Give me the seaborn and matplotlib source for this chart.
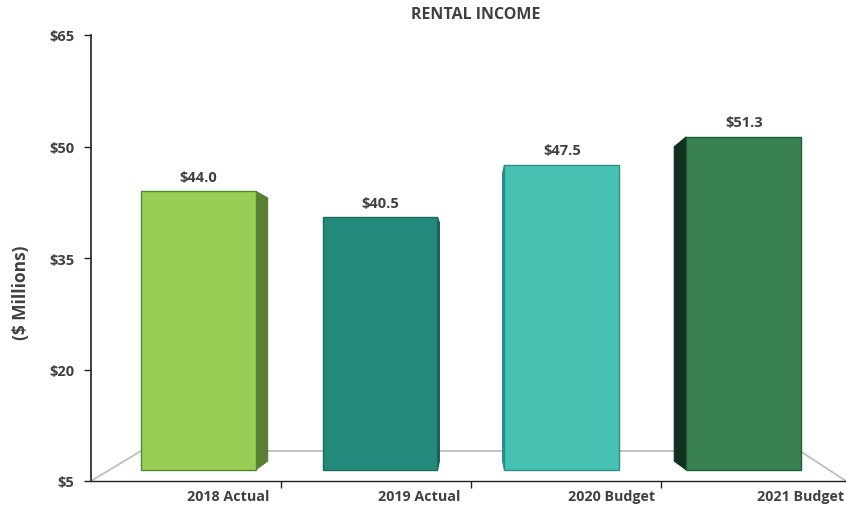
import matplotlib
matplotlib.use("Agg")
import matplotlib.pyplot as plt
import seaborn as sns
from matplotlib.patches import Polygon

# Data
categories = ["2018 Actual", "2019 Actual", "2020 Budget", "2021 Budget"]
values = [44.0, 40.5, 47.5, 51.3]
value_labels = ["$44.0", "$40.5", "$47.5", "$51.3"]
yticks = [5, 20, 35, 50, 65]
ytick_labels = ["$5", "$20", "$35", "$50", "$65"]

# Styling
front_colors = ["#9acd55", "#23897a", "#48c3b3", "#3a8152"]
edge_colors = ["#4f8a35", "#1b6b5a", "#2a8f80", "#1f5f37"]
side_colors = ["#5b7f32", "#17594d", "#2a8f80", "#132f1f"]
text_color = "#404040"
floor_color = "#bfbfbf"

sns.set_style("white")
plt.rcParams["font.family"] = ["Open Sans", "DejaVu Sans"]

fig = plt.figure(figsize=(8.46, 5.10), dpi=100)
ax = fig.add_axes([91 / 846, 1 - 482 / 510, 1 - 91 / 846, (482 - 36) / 510])

sns.barplot(x=categories, y=values, hue=categories, palette=front_colors,
            legend=False, width=0.632, saturation=1, ax=ax)

ax.set_xlim(-0.589, 3.562)
ax.set_ylim(5, 65)

# 3D-ish look: floor, bars lifted off the axis, side faces toward the vanishing point
floor_y = 6.5
back_y = 9.04
vx, vy, k = 1.5, 27.5, 0.056
ax.plot([-0.589, -0.314, 3.309, 3.562], [5, back_y, back_y, 5],
        color=floor_color, lw=1.3, zorder=1, clip_on=False)

for i, patch in enumerate(ax.patches):
    patch.set_y(floor_y)
    patch.set_height(values[i] - floor_y)
    patch.set_edgecolor(edge_colors[i])
    patch.set_linewidth(1.0)
    patch.set_zorder(4)
    x0 = patch.get_x()
    x1 = x0 + patch.get_width()
    xe = x1 if (x0 + x1) / 2 < vx else x0
    top, bot = values[i], floor_y
    pts = [(xe, top), (xe + k * (vx - xe), top + k * (vy - top)),
           (xe + k * (vx - xe), bot + k * (vy - bot)), (xe, bot)]
    ax.add_patch(Polygon(pts, closed=True, facecolor=side_colors[i],
                         edgecolor=side_colors[i], lw=0.8, zorder=3))
    ax.annotate(value_labels[i], ((x0 + x1) / 2, values[i]), xytext=(0, 10.5),
                textcoords="offset points", ha="center", va="center",
                fontsize=10.5, fontweight="bold", color=text_color)

# axes
ax.set_yticks(yticks)
ax.set_yticklabels(ytick_labels, fontsize=10.5, fontweight="bold", color=text_color)
ax.tick_params(axis="y", length=5, width=1, color="#202020", left=True, pad=7)

label_pos = [0.165, 1.215, 2.275, 3.31]
ax.set_xticks(label_pos)
ax.set_xticklabels(categories, fontsize=10.3, fontweight="bold", color=text_color)
ax.tick_params(axis="x", which="major", length=0, pad=6)
ax.set_xticks([0.455, 1.5, 2.545], minor=True)
ax.tick_params(axis="x", which="minor", length=5, width=1, color="#202020", bottom=True)

for side in ["top", "right"]:
    ax.spines[side].set_visible(False)
ax.spines["left"].set_color("#202020")
ax.spines["bottom"].set_color("#202020")
ax.spines["left"].set_linewidth(1.2)
ax.spines["bottom"].set_linewidth(1.0)

ax.set_xlabel("")
ax.set_ylabel("($ Millions)", fontsize=12.5, fontweight="bold", color=text_color)
ax.yaxis.set_label_coords(-0.081, 0.424)

fig.text(0.562, 0.97, "RENTAL INCOME", ha="center", va="center",
         fontsize=11.5, fontweight="bold", color=text_color)

fig.savefig("out.png", dpi=100)
